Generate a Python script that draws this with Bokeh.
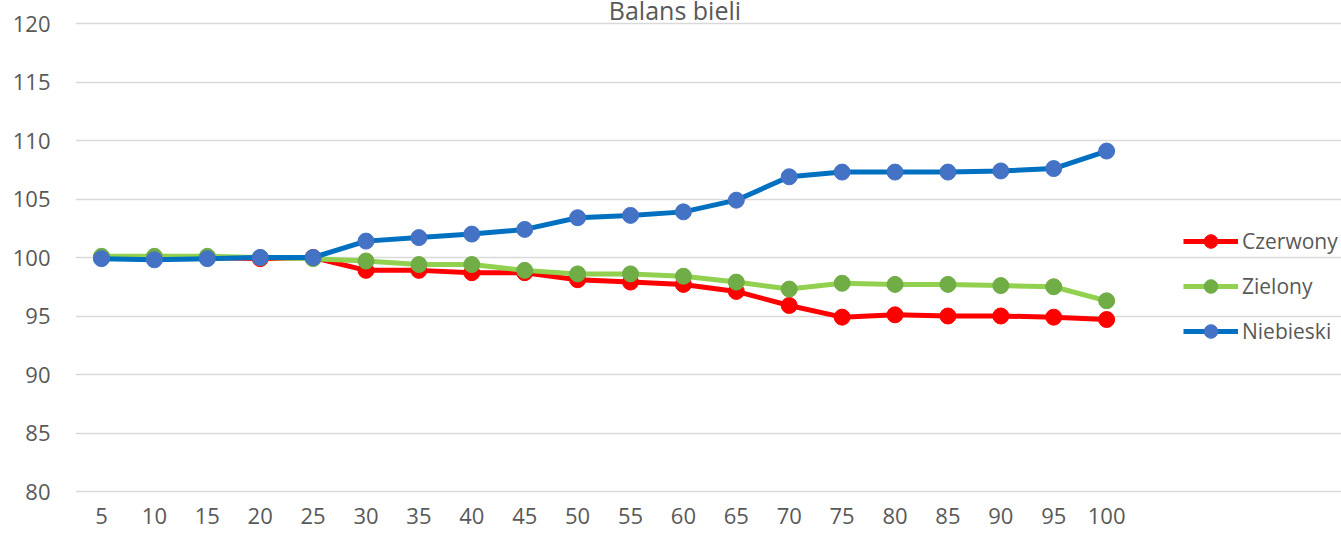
from bokeh.plotting import figure
from bokeh.models import Legend, LegendItem, Label, FixedTicker, Range1d
from bokeh.embed import file_html
from bokeh.resources import INLINE

categories = [5, 10, 15, 20, 25, 30, 35, 40, 45, 50,
              55, 60, 65, 70, 75, 80, 85, 90, 95, 100]
czerwony = [100.0, 100.0, 100.0, 99.9, 100.0, 98.9, 98.9, 98.7, 98.7, 98.1,
            97.9, 97.7, 97.1, 95.9, 94.9, 95.1, 95.0, 95.0, 94.9, 94.7]
zielony = [100.1, 100.1, 100.1, 100.0, 99.9, 99.7, 99.4, 99.4, 98.9, 98.6,
           98.6, 98.4, 97.9, 97.3, 97.8, 97.7, 97.7, 97.6, 97.5, 96.3]
niebieski = [99.9, 99.8, 99.9, 100.0, 100.0, 101.4, 101.7, 102.0, 102.4, 103.4,
             103.6, 103.9, 104.9, 106.9, 107.3, 107.3, 107.3, 107.4, 107.6, 109.1]
series_names = ["Czerwony", "Zielony", "Niebieski"]
title_text = "Balans bieli"
y_ticks = [80, 85, 90, 95, 100, 105, 110, 115, 120]

FONT = "Open Sans"
TXT = "#595959"

p = figure(width=1341, height=537, output_backend="svg", toolbar_location=None,
           x_range=Range1d(2.543, 122.2), y_range=Range1d(79.744, 121.966),
           min_border_left=75, min_border_right=0, min_border_top=0, min_border_bottom=43)
p.outline_line_color = None
p.background_fill_color = "white"
p.border_fill_color = "white"

p.xgrid.grid_line_color = None
p.ygrid.grid_line_color = "#d9d9d9"
p.ygrid.grid_line_width = 1.3
p.ygrid.bounds = (2.5, 102.5)
p.yaxis.ticker = FixedTicker(ticks=y_ticks)
p.xaxis.ticker = FixedTicker(ticks=categories)

for ax in (p.xaxis, p.yaxis):
    ax.axis_line_color = None
    ax.major_tick_line_color = None
    ax.minor_tick_line_color = None
    ax.major_tick_out = 0
    ax.major_tick_in = 0
    ax.major_label_text_font = FONT
    ax.major_label_text_font_size = "22px"
    ax.major_label_text_color = TXT
p.yaxis.major_label_standoff = 25
p.xaxis.major_label_standoff = 13

styles = [
    (czerwony, "#FF0000", "#FF0000"),
    (zielony, "#92D050", "#70AD47"),
    (niebieski, "#0070C0", "#4472C4"),
]
items = []
for name, (vals, lc, mc) in zip(series_names, styles):
    l = p.line(categories, vals, line_color=lc, line_width=5)
    s = p.scatter(categories, vals, size=16, fill_color=mc, line_color=mc)
    items.append(LegendItem(label=name, renderers=[l, s]))

legend = Legend(items=items, location=(1108, 146), glyph_width=55, glyph_height=34,
                spacing=11, label_text_font=FONT, label_text_font_size="21px",
                label_text_color=TXT, border_line_color=None, background_fill_alpha=0,
                label_standoff=4, padding=0, margin=0)
p.add_layout(legend, "center")

p.add_layout(Label(x=59.2, y=121.12, text=title_text,
                   text_font=FONT, text_font_size="25px", text_color=TXT,
                   text_align="center", text_baseline="alphabetic"))

open("out.html", "w").write(file_html(p, INLINE))
